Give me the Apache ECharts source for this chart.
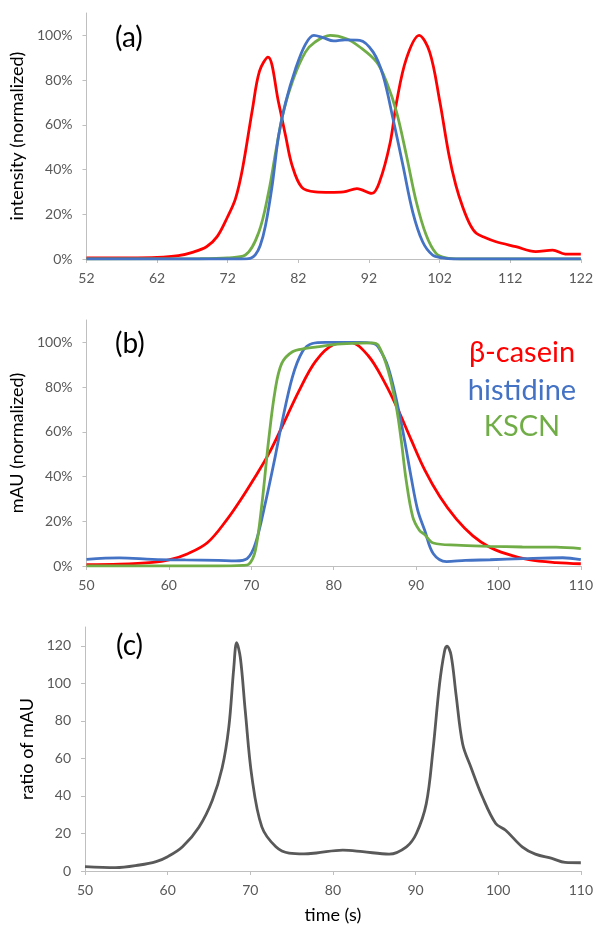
<!DOCTYPE html>
<html>
<head>
<meta charset="utf-8">
<script src="https://cdn.jsdelivr.net/npm/echarts@6/dist/echarts.min.js"></script>
<style>
  html, body { margin: 0; padding: 0; background: #fff; }
  #chart { width: 596px; height: 926px; }
</style>
</head>
<body>
<div id="chart"></div>
<script>
// panel (a): intensity (normalized, %) vs time
var timeA_casein = [52, 58, 62, 65, 67, 69, 70.5, 72, 73.1, 74.1, 75.5, 76.5, 77.7, 79.2, 80.2, 81.1, 82.5, 84.4, 86.5, 88.4, 90.3, 92.4, 93.5, 95, 95.9, 97.3, 99.1, 100.6, 102, 103.3, 104.3, 105.3, 106.3, 107.2, 108.5, 110, 112.8, 115.6, 118, 119.8, 122]
var caseinA = [0.5, 0.5, 0.7, 1.5, 3, 5.5, 10, 19, 27, 40.5, 67, 84, 90.3, 70, 55, 42, 32, 30, 29.8, 30, 31.5, 29.3, 34.5, 52, 70, 89.6, 100, 92.5, 71, 47, 33, 23, 15.5, 11.5, 9.5, 7.7, 5.5, 3.3, 4, 2.2, 2.2]
var timeA_histidine = [52, 74, 75.2, 75.9, 76.6, 77.35, 78.3, 79.2, 80.2, 81.6, 83, 84.2, 85.5, 87, 88.6, 90.7, 92.6, 94, 95.4, 96.8, 98.2, 99.6, 101, 102.4, 104, 122]
var histidineA = [0, 0, 0.3, 1.8, 6, 15, 33, 55, 70, 85, 96, 100, 99, 97.5, 98, 97.8, 92.5, 82, 62.8, 42, 21, 7.7, 1.8, 0.5, 0, 0]
var timeA_kscn = [52, 68, 72, 74.5, 76.4, 77.8, 78.8, 79.9, 81.3, 83, 84.35, 86.5, 88.8, 90.7, 93.1, 94.5, 95.9, 97.3, 98.7, 100.1, 101.5, 102.9, 105, 122]
var kscnA = [0, 0.1, 0.5, 1.8, 12, 30, 48, 66, 80.6, 92.5, 97, 100, 98.5, 94.8, 88, 79, 65.8, 46.4, 25.6, 10.7, 2.5, 0.5, 0, 0]

// panel (b): mAU (normalized, %) vs time
var timeB_casein = [50, 54, 58, 60, 62.3, 64.7, 67, 68.7, 70.5, 72.1, 73.7, 75.75, 77.8, 80, 82, 84.2, 86.2, 87.8, 89.4, 91.05, 92.9, 94.9, 96.9, 98.9, 100.9, 103.7, 107, 110]
var caseinB = [0.6, 0.8, 1.6, 2.7, 5.5, 10.5, 20.5, 29.5, 40, 50, 62, 78, 91.5, 99, 100, 94, 82, 70, 56.5, 43, 31, 21, 13.5, 8.5, 5.5, 2.8, 1.5, 1]
var timeB_histidine = [50, 54, 58, 62, 66, 68.1, 69.5, 70.5, 71.7, 72.9, 73.7, 75, 76.2, 77.4, 79, 83, 84.8, 85.4, 86.6, 87.8, 88.6, 89.4, 90.2, 91.05, 92.1, 93.7, 96, 99, 103, 107.8, 110]
var histidineB = [3, 3.6, 3, 2.7, 2.5, 2.3, 3.3, 10, 28, 48.8, 63.7, 84.6, 95.8, 99.5, 100, 100, 99.5, 98, 89, 71.2, 56.3, 39.8, 25, 16, 5.5, 2, 2.5, 2.8, 3.3, 3.7, 2.8]
var timeB_kscn = [50, 66, 69, 69.7, 70.5, 71.3, 72.1, 72.9, 73.7, 75, 76.6, 78, 80, 82.8, 84.6, 85.4, 86.6, 87.6, 88.2, 88.8, 89.6, 90.4, 91, 92.1, 94.9, 98.9, 102.9, 107, 110]
var kscnB = [0, 0, 0.3, 0.8, 7, 28, 56, 78.6, 90.6, 95.8, 97.3, 98, 99, 99.6, 99.8, 98.8, 87.6, 71.2, 56.3, 38.4, 22, 16, 14.2, 10.3, 9.3, 8.8, 8.5, 8.4, 7.8]

// panel (c): ratio of mAU vs time
var timeC = [50, 53.7, 56.6, 58.6, 60, 61.8, 63.8, 65.4, 66.6, 67.4, 68, 68.35, 68.8, 69.4, 70.2, 71.4, 73.1, 74.7, 76.5, 78, 81.2, 83.6, 86.8, 88.9, 90.1, 91.3, 92.1, 92.9, 93.5, 93.8, 94.3, 94.9, 95.7, 96.7, 98.1, 99.7, 100.9, 102.9, 104.5, 106.5, 108.1, 110]
var ratioC = [2.3, 1.8, 3.2, 5, 7.6, 12.9, 23.5, 37.6, 55, 76.5, 108, 121.6, 113.6, 85, 50, 23.5, 12.9, 9.5, 9.1, 9.6, 11.1, 10.3, 9, 12.9, 20, 35.9, 64, 99.5, 117, 119.8, 115, 94, 67.7, 55.3, 39.4, 25.3, 21.7, 12.9, 9, 6.7, 4.6, 4.4]

// tick labels
var ticksXA = [52, 62, 72, 82, 92, 102, 112, 122]
var ticksXB = [50, 60, 70, 80, 90, 100, 110]
var ticksPct = [0, 20, 40, 60, 80, 100]
var ticksRatio = [0, 20, 40, 60, 80, 100, 120]

var legendNames = ['β-casein', 'histidine', 'KSCN']
var colors = ['#FF0000', '#4472C4', '#70AD47']

function pairs(t, v) {
    var out = []
    for (var i = 0; i < t.length; i++) {
        out.push([t[i], v[i]])
    }
    return out
}

var font = 'Lato, "Open Sans", sans-serif'
var axisGray = '#BFBFBF'
var labelGray = '#595959'

function xAxisOf(idx, min, max, ticks, name) {
    return {
        type: 'value', gridIndex: idx, min: min, max: max, interval: 10,
        axisLine: {show: true, lineStyle: {color: axisGray, width: 1}},
        axisTick: {show: true, length: 4, customValues: ticks, lineStyle: {color: axisGray}},
        axisLabel: {customValues: ticks, color: labelGray, fontSize: 14, fontFamily: font, margin: 12},
        splitLine: {show: false},
        name: name || '', nameLocation: 'middle', nameGap: 35,
        nameTextStyle: {color: '#000', fontSize: 18, fontFamily: font}
    }
}

function yAxisOf(idx, max, ticks, name, pct, gap) {
    return {
        type: 'value', gridIndex: idx, min: 0, max: max, interval: 20,
        axisLine: {show: true, lineStyle: {color: axisGray, width: 1}},
        axisTick: {show: true, length: 4, customValues: ticks, lineStyle: {color: axisGray}},
        axisLabel: {customValues: ticks, color: labelGray, fontSize: 14, fontFamily: font, margin: 14,
                    formatter: pct ? '{value}%' : '{value}'},
        splitLine: {show: false},
        name: name, nameLocation: 'middle', nameGap: gap, nameRotate: 90,
        nameTextStyle: {color: '#000', fontSize: 18, fontFamily: font}
    }
}

function lineSeries(name, data, color, xi) {
    return {
        name: name, type: 'line', xAxisIndex: xi, yAxisIndex: xi,
        data: data, showSymbol: false, smooth: 0.35,
        lineStyle: {color: color, width: 2.8}, itemStyle: {color: color},
        silent: true, animation: false
    }
}

var series = [
    lineSeries(legendNames[0], pairs(timeA_casein, caseinA), colors[0], 0),
    lineSeries(legendNames[2], pairs(timeA_kscn, kscnA), colors[2], 0),
    lineSeries(legendNames[1], pairs(timeA_histidine, histidineA), colors[1], 0),
    lineSeries(legendNames[0], pairs(timeB_casein, caseinB), colors[0], 1),
    lineSeries(legendNames[1], pairs(timeB_histidine, histidineB), colors[1], 1),
    lineSeries(legendNames[2], pairs(timeB_kscn, kscnB), colors[2], 1),
    lineSeries('ratio', pairs(timeC, ratioC), '#595959', 2)
]

var panelText = function (txt, x, y) {
    return {type: 'text', left: x, top: y,
            style: {text: txt, fontSize: 28, fontFamily: font, fill: '#000'}}
}
var legendText = function (txt, color, y) {
    return {type: 'text', x: 522, y: y,
            style: {text: txt, fontSize: 29, fontFamily: font, fill: color, align: 'center', verticalAlign: 'middle'}}
}

var option = {
    animation: false,
    backgroundColor: '#fff',
    grid: [
        {left: 85, right: 14, top: 13, height: 246},
        {left: 85, right: 14, top: 320, height: 246},
        {left: 85, right: 14, top: 627, height: 244}
    ],
    xAxis: [
        xAxisOf(0, 52, 122, ticksXA),
        xAxisOf(1, 50, 110, ticksXB),
        xAxisOf(2, 50, 110, ticksXB, 'time (s)')
    ],
    yAxis: [
        yAxisOf(0, 110, ticksPct, 'intensity (normalized)', true, 55),
        yAxisOf(1, 110, ticksPct, 'mAU (normalized)', true, 55),
        yAxisOf(2, 130, ticksRatio, 'ratio of mAU', false, 43)
    ],
    graphic: [
        panelText('(a)', 115, 24),
        panelText('(b)', 115, 330),
        panelText('(c)', 116, 632),
        legendText(legendNames[0], colors[0], 353),
        legendText(legendNames[1], colors[1], 391),
        legendText(legendNames[2], colors[2], 427)
    ],
    series: series
}

var chart = echarts.init(document.getElementById('chart'))
chart.setOption(option)
</script>
</body>
</html>
